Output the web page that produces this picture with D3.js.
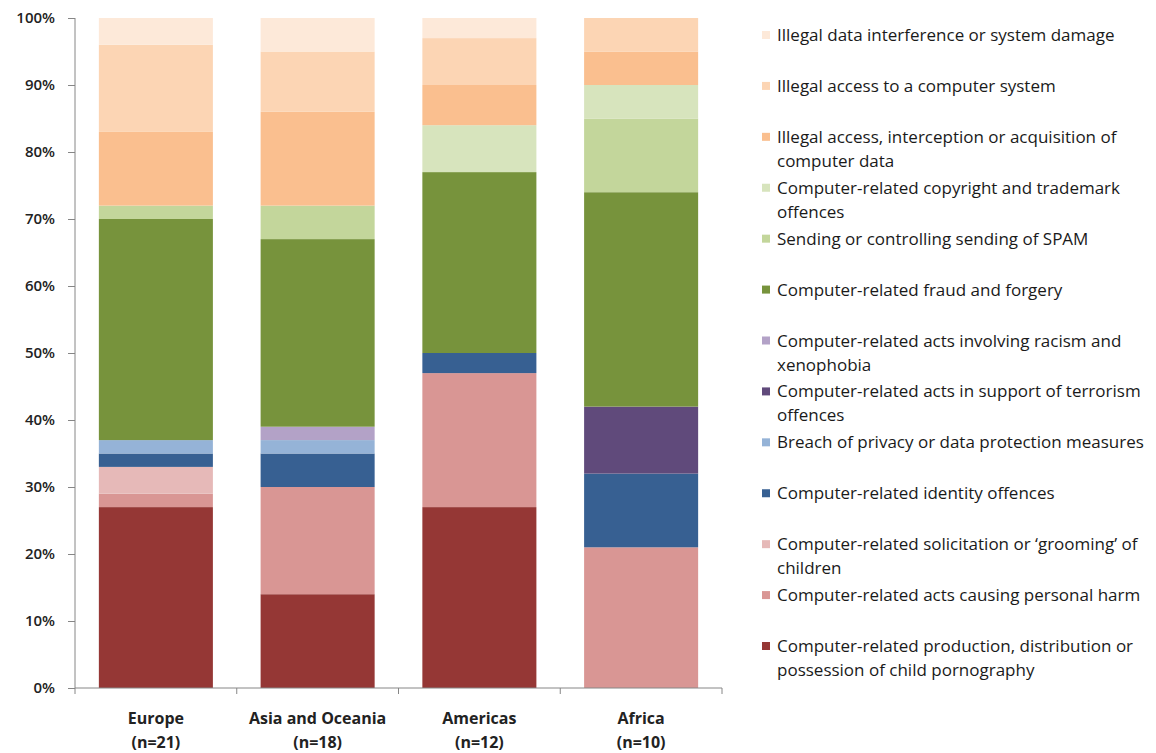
<!DOCTYPE html>
<meta charset="utf-8">
<style>
body { margin: 0; background: #fff; }
.axis path, .axis line { stroke: #868686; }
.axis text { font-family: "Open Sans", Lato, sans-serif; fill: #222; }
.legend text { font-family: "Open Sans", Lato, sans-serif; font-size: 17px; fill: #1a1a1a; }
</style>
<svg width="1156" height="753"></svg>
<script src="https://d3js.org/d3.v7.min.js"></script>
<script>

// regions along the x axis
var regions = ["Europe", "Asia and Oceania", "Americas", "Africa"];
var regionN = ["(n=21)", "(n=18)", "(n=12)", "(n=10)"];

// offence types, stacked from the bottom up
var offences = [
  "Computer-related production, distribution or possession of child pornography",
  "Computer-related acts causing personal harm",
  "Computer-related solicitation or \u2018grooming\u2019 of children",
  "Computer-related identity offences",
  "Breach of privacy or data protection measures",
  "Computer-related acts in support  of terrorism offences",
  "Computer-related acts involving racism and xenophobia",
  "Computer-related fraud and forgery",
  "Sending or controlling sending of SPAM",
  "Computer-related copyright and trademark offences",
  "Illegal access, interception or acquisition of computer data",
  "Illegal access to a computer system",
  "Illegal data interference or system damage"
];

// legend lines (wrapped as in the original)
var legendLines = [
  ["Computer-related production, distribution or", "possession of child pornography"],
  ["Computer-related acts causing personal harm"],
  ["Computer-related solicitation or \u2018grooming\u2019 of", "children"],
  ["Computer-related identity offences"],
  ["Breach of privacy or data protection measures"],
  ["Computer-related acts in support  of terrorism", "offences"],
  ["Computer-related acts involving racism and", "xenophobia"],
  ["Computer-related fraud and forgery"],
  ["Sending or controlling sending of SPAM"],
  ["Computer-related copyright and trademark", "offences"],
  ["Illegal access, interception or acquisition of", "computer data"],
  ["Illegal access to a computer system"],
  ["Illegal data interference or system damage"]
];

var colors = ["#953735", "#d99694", "#e6b9b8", "#376092", "#95b3d7", "#604a7b",
              "#b3a2c7", "#77933c", "#c3d69b", "#d7e4bd", "#fabf8f", "#fcd5b4", "#fde9d9"];

// percent per offence type, one list per region (same order as offences)
var europe   = [27, 2, 4, 2, 2, 0, 0, 33, 2, 0, 11, 13, 4];
var asia     = [14, 16, 0, 5, 2, 0, 2, 28, 5, 0, 14, 9, 5];
var americas = [27, 20, 0, 3, 0, 0, 0, 27, 0, 7, 6, 7, 3];
var africa   = [0, 21, 0, 11, 0, 10, 0, 32, 11, 5, 5, 5, 0];

var yTicks = [0, 10, 20, 30, 40, 50, 60, 70, 80, 90, 100];

var table = [europe, asia, americas, africa].map(function(vals, i) {
  var row = { region: regions[i] };
  offences.forEach(function(o, j) { row[o] = vals[j]; });
  return row;
});

var svg = d3.select("svg");

var x = d3.scaleBand()
    .domain(regions)
    .range([75, 722])
    .paddingInner(0.295)
    .paddingOuter(0.1475);

var y = d3.scaleLinear()
    .domain([0, 100])
    .range([688, 18]);

var stack = d3.stack().keys(offences);
var series = stack(table);

svg.append("g")
  .selectAll("g")
  .data(series)
  .enter().append("g")
    .attr("fill", function(d, i) { return colors[i]; })
  .selectAll("rect")
  .data(function(d) { return d; })
  .enter().append("rect")
    .attr("x", function(d) { return x(d.data.region); })
    .attr("width", x.bandwidth())
    .attr("y", function(d) { return y(d[1]); })
    .attr("height", function(d) { return y(d[0]) - y(d[1]); });

// y axis
var yAxis = svg.append("g")
    .attr("class", "axis")
    .attr("transform", "translate(75,0)")
    .call(d3.axisLeft(y).tickValues(yTicks).tickSize(7).tickPadding(13)
      .tickFormat(function(d) { return d + "%"; }));
yAxis.selectAll("text").style("font-size", "15px").style("font-weight", "600");
yAxis.select(".domain").attr("d", "M0," + y(100) + "V" + y(0));

// x axis with ticks between categories
var xAxis = svg.append("g")
    .attr("class", "axis")
    .attr("transform", "translate(0,688)");
xAxis.append("line")
    .attr("x1", 75).attr("x2", 722).attr("y1", 0).attr("y2", 0)
    .attr("stroke", "#868686");
var edges = regions.map(function(r) { return x(r) - x.step() * x.paddingInner() / 2; });
edges.push(722);
xAxis.selectAll(".tk")
  .data(edges)
  .enter().append("line")
    .attr("x1", function(d) { return d; })
    .attr("x2", function(d) { return d; })
    .attr("y1", 0).attr("y2", 6)
    .attr("stroke", "#868686");
var lab = xAxis.selectAll(".lab")
  .data(regions)
  .enter().append("text")
    .attr("text-anchor", "middle")
    .attr("x", function(d) { return x(d) + x.bandwidth() / 2; })
    .style("font-size", "16px")
    .style("font-weight", "bold");
lab.append("tspan")
    .attr("x", function(d) { return x(d) + x.bandwidth() / 2; })
    .attr("y", 36)
    .text(function(d) { return d; });
lab.append("tspan")
    .attr("x", function(d) { return x(d) + x.bandwidth() / 2; })
    .attr("y", 60)
    .text(function(d, i) { return regionN[i]; });

// legend, top entry is the top of the stack
var legendY = d3.scaleLinear().domain([12, 0]).range([35, 646]);

var legend = svg.append("g")
    .attr("class", "legend")
  .selectAll("g")
  .data(offences)
  .enter().append("g")
    .attr("transform", function(d, i) { return "translate(762," + legendY(i) + ")"; });

legend.append("rect")
    .attr("x", 0).attr("y", -4)
    .attr("width", 8).attr("height", 8)
    .attr("fill", function(d, i) { return colors[i]; });

legend.append("text")
    .attr("x", 15)
    .attr("y", 6)
  .selectAll("tspan")
  .data(function(d, i) { return legendLines[i]; })
  .enter().append("tspan")
    .attr("x", 15)
    .attr("dy", function(d, k) { return k === 0 ? 0 : 24; })
    .text(function(d) { return d; });

</script>
